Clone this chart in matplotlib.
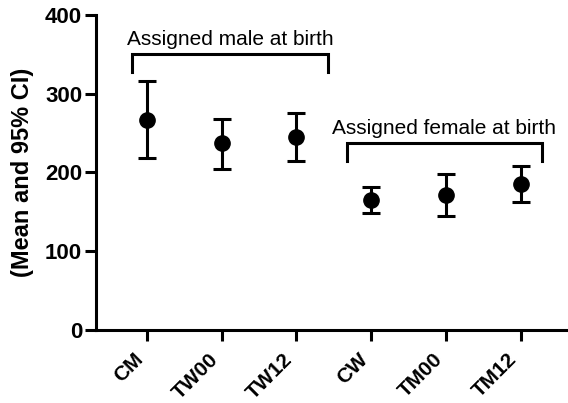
import matplotlib.pyplot as plt
import matplotlib.transforms as mtransforms
import numpy as np

plt.rcParams['font.family'] = ['Liberation Sans', 'DejaVu Sans']

# Group means and 95% CI bounds
groups = ['CM', 'TW00', 'TW12', 'CW', 'TM00', 'TM12']
means = np.array([267, 237, 245, 165, 171, 186])
ci_low = np.array([218, 205, 215, 149, 145, 163])
ci_high = np.array([316, 268, 275, 181, 198, 208])

bracket_labels = ['Assigned male at birth', 'Assigned female at birth']
bracket_span = [(-0.2, 2.42), (2.67, 5.28)]
bracket_height = [350, 237]

x = np.arange(len(groups))

fig = plt.figure(figsize=(5.68, 4.03), dpi=100)
ax = fig.add_axes([0.169, 0.181, 0.831, 0.782])

ax.errorbar(x, means, yerr=[means - ci_low, ci_high - means], fmt='o',
            color='black', markersize=11, elinewidth=2.2, capsize=6.5,
            capthick=2.2)

# group brackets
for lab, (x0, x1), h in zip(bracket_labels, bracket_span, bracket_height):
    ax.plot([x0, x0, x1, x1], [h - 22, h, h, h - 22], color='black',
            lw=2.2, solid_joinstyle='miter', clip_on=False)
    ax.text((x0 + x1) / 2, h + 7, lab, ha='center', va='bottom', fontsize=15)

ax.set_xlim(-0.68, 5.63)
ax.set_ylim(0, 400)
ax.set_yticks([0, 100, 200, 300, 400])
ax.set_xticks(x)
ax.set_xticklabels(groups, rotation=45, ha='right', va='top',
                   fontweight='bold', fontsize=15)
shift = mtransforms.ScaledTranslation(4 / 72, 0, fig.dpi_scale_trans)
for t in ax.get_xticklabels():
    t.set_transform(t.get_transform() + shift)
for t in ax.get_yticklabels():
    t.set_fontweight('bold')
    t.set_fontsize(16)
ax.set_ylabel('(Mean and 95% CI)', fontweight='bold', fontsize=17, labelpad=8)

for s in ['top', 'right']:
    ax.spines[s].set_visible(False)
for s in ['left', 'bottom']:
    ax.spines[s].set_linewidth(2.2)
ax.tick_params(width=2.2, length=8, pad=2)
ax.tick_params(axis='x', pad=6)

fig.savefig('out.png', dpi=100)
